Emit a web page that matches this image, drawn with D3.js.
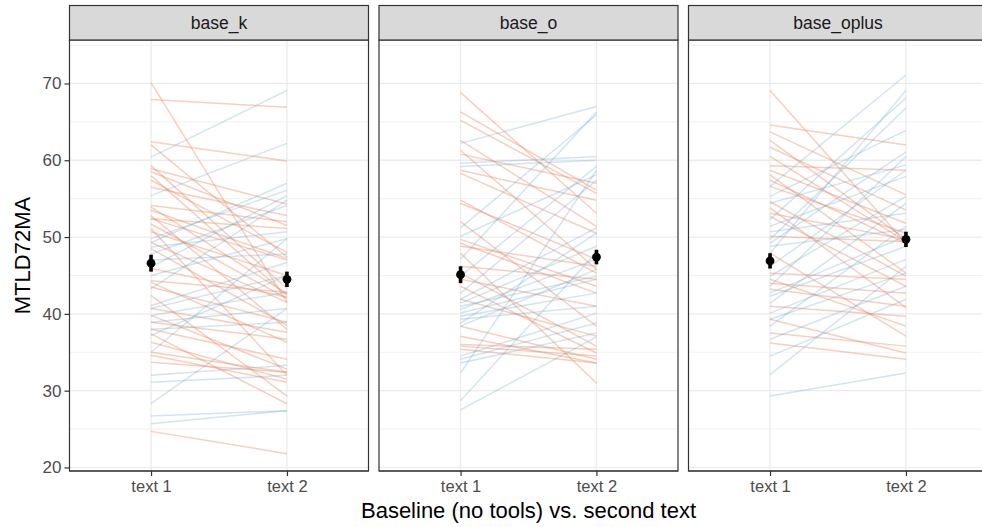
<!DOCTYPE html>
<html lang="en">
  <head>
    <meta charset="utf-8"/>
    <title>MTLD72MA slope chart</title>
    <style>
      body { margin: 0; overflow: hidden; background: #fff; }
      svg { font-family: "Liberation Sans", Arial, sans-serif; }
    </style>
  </head>
  <body>
    <svg id="chart"></svg>

    <script src="https://cdnjs.cloudflare.com/ajax/libs/d3/7.8.5/d3.min.js"></script>
    <script type="text/javascript">
      // panels and x categories
      const panels = ["base_k", "base_o", "base_oplus"];
      const conditions = ["text 1", "text 2"];
      const yTicks = [20, 30, 40, 50, 60, 70];

      // per-participant scores, one pair per line
      const baseK_text1 = [70.1, 67.9, 62.4, 62.0, 59.3, 58.9, 58.5, 58.0, 57.4, 56.5, 54.1, 53.9, 53.5, 52.8, 52.4, 51.7, 51.1, 50.7, 48.5, 45.9, 44.3, 44.1, 43.5, 42.4, 40.7, 39.8, 38.9, 38.0, 37.4, 36.3, 35.0, 34.6, 33.7, 24.7, 52.4, 49.3,
        60.4, 55.4, 49.8, 49.3, 48.7, 47.8, 47.0, 46.1, 45.0, 43.3, 41.1, 40.7, 39.8, 38.9, 38.0, 37.2, 35.0, 32.0, 31.1, 28.3, 26.7, 25.7];
      const baseK_text2 = [41.5, 66.9, 59.9, 47.4, 43.3, 54.3, 51.5, 42.4, 48.0, 52.8, 52.0, 42.6, 47.2, 38.0, 51.1, 42.0, 32.0, 45.0, 38.5, 42.2, 42.8, 36.3, 38.9, 29.3, 37.6, 32.8, 36.7, 34.1, 28.3, 31.5, 32.4, 31.1, 32.4, 21.8, 47.0, 41.5,
        69.1, 62.2, 56.1, 57.0, 50.7, 54.1, 47.8, 55.4, 49.8, 54.8, 46.7, 45.0, 42.8, 40.7, 38.9, 45.0, 49.8, 33.3, 32.0, 40.7, 27.4, 27.4];

      const baseO_text1 = [68.8, 66.3, 65.2, 62.6, 61.3, 58.7, 58.3, 54.8, 54.4, 52.0, 49.7, 48.8, 47.9, 46.2, 45.3, 44.5, 43.6, 41.9, 38.4, 37.1, 36.0, 35.8, 35.4, 60.8, 49.2,
        62.2, 59.6, 59.2, 51.2, 50.1, 47.1, 44.9, 42.7, 41.9, 41.4, 41.0, 40.6, 40.1, 39.7, 39.3, 38.8, 38.4, 34.5, 34.1, 33.6, 32.3, 28.7, 27.5];
      const baseO_text2 = [53.1, 56.1, 55.7, 51.4, 45.8, 54.8, 50.5, 45.3, 47.1, 38.4, 43.6, 46.2, 31.0, 44.5, 35.8, 41.0, 34.9, 37.1, 34.1, 33.6, 35.4, 34.5, 33.6, 57.0, 42.7,
        67.0, 60.5, 60.0, 65.9, 58.1, 66.3, 59.2, 57.4, 51.2, 48.8, 44.9, 47.1, 44.5, 42.7, 41.0, 50.5, 45.8, 40.1, 38.8, 37.5, 58.7, 48.0, 37.0];

      const baseOplus_text1 = [69.1, 64.6, 63.7, 62.6, 61.7, 60.5, 59.3, 58.7, 58.1, 57.4, 56.6, 54.6, 53.8, 53.1, 52.7, 50.1, 47.9, 45.3, 44.5, 44.0, 43.2, 41.0, 39.3, 37.5, 36.2,
        56.6, 55.3, 54.4, 52.3, 51.4, 50.7, 49.7, 49.2, 48.8, 47.9, 46.2, 44.9, 43.6, 42.7, 42.3, 41.4, 40.1, 39.3, 38.4, 36.7, 34.5, 32.1, 29.3];
      const baseOplus_text2 = [49.2, 62.0, 55.5, 49.7, 53.5, 49.4, 58.7, 51.8, 45.3, 49.2, 50.5, 44.9, 40.8, 49.7, 43.6, 49.4, 37.1, 44.5, 38.4, 42.7, 41.0, 39.7, 34.9, 35.8, 34.1,
        71.1, 63.9, 59.4, 68.1, 57.9, 53.1, 66.8, 61.1, 51.0, 69.1, 58.7, 55.3, 60.5, 50.1, 48.8, 54.4, 47.1, 45.3, 51.4, 43.6, 41.9, 46.2, 32.3];

      // group means with standard error, per panel
      const meanText1 = [46.6, 45.1, 46.9];
      const meanText2 = [44.5, 47.4, 49.7];
      const seText1 = [1.1, 1.1, 1.0];
      const seText2 = [1.0, 0.95, 1.0];

      const text1ByPanel = [baseK_text1, baseO_text1, baseOplus_text1];
      const text2ByPanel = [baseK_text2, baseO_text2, baseOplus_text2];

      const width = 982;
      const height = 527;
      const panelLeft = 69.5;
      const panelWidth = 299;
      const panelGap = 10.5;
      const stripTop = 5.5;
      const stripBottom = 40;
      const panelBottom = 471;

      const downColor = "#EF8A62";
      const upColor = "#67A9CF";

      const svg = d3.select("#chart")
        .attr("width", width)
        .attr("height", height);

      const y = d3.scaleLinear().domain([19.54, 75.66]).range([panelBottom, stripBottom]);

      panels.forEach(function(name, p) {
        const x0 = panelLeft + p * (panelWidth + panelGap);
        const x = d3.scalePoint().domain(conditions).range([x0, x0 + panelWidth]).padding(0.6);
        const g = svg.append("g").attr("class", "panel");

        // minor and major grid
        const minor = d3.range(25, 76, 10);
        g.selectAll(".minor").data(minor).enter().append("line")
          .attr("x1", x0).attr("x2", x0 + panelWidth)
          .attr("y1", function(d) { return y(d); })
          .attr("y2", function(d) { return y(d); })
          .attr("stroke", "#EBEBEB").attr("stroke-width", 0.7);
        g.selectAll(".major").data(yTicks).enter().append("line")
          .attr("x1", x0).attr("x2", x0 + panelWidth)
          .attr("y1", function(d) { return y(d); })
          .attr("y2", function(d) { return y(d); })
          .attr("stroke", "#EBEBEB").attr("stroke-width", 1.3);
        g.selectAll(".vmajor").data(conditions).enter().append("line")
          .attr("x1", function(d) { return x(d); })
          .attr("x2", function(d) { return x(d); })
          .attr("y1", stripBottom).attr("y2", panelBottom)
          .attr("stroke", "#EBEBEB").attr("stroke-width", 1.3);

        // participant lines
        const pairs = text1ByPanel[p].map(function(v, i) {
          return { a: v, b: text2ByPanel[p][i] };
        });
        g.selectAll(".pair").data(pairs).enter().append("line")
          .attr("x1", x("text 1")).attr("x2", x("text 2"))
          .attr("y1", function(d) { return y(d.a); })
          .attr("y2", function(d) { return y(d.b); })
          .attr("stroke", function(d) { return d.b < d.a ? downColor : upColor; })
          .attr("stroke-opacity", function(d) { return d.b < d.a ? 0.42 : 0.3; })
          .attr("stroke-width", 1.5);

        // means with error bars
        const means = [
          { c: "text 1", m: meanText1[p], se: seText1[p] },
          { c: "text 2", m: meanText2[p], se: seText2[p] }
        ];
        g.selectAll(".err").data(means).enter().append("line")
          .attr("x1", function(d) { return x(d.c); })
          .attr("x2", function(d) { return x(d.c); })
          .attr("y1", function(d) { return y(d.m - d.se); })
          .attr("y2", function(d) { return y(d.m + d.se); })
          .attr("stroke", "#000").attr("stroke-width", 3.6);
        g.selectAll(".mean").data(means).enter().append("circle")
          .attr("cx", function(d) { return x(d.c); })
          .attr("cy", function(d) { return y(d.m); })
          .attr("r", 4.4)
          .attr("fill", "#000");

        // panel border
        g.append("rect")
          .attr("x", x0).attr("y", stripBottom)
          .attr("width", panelWidth).attr("height", panelBottom - stripBottom)
          .attr("fill", "none").attr("stroke", "#333").attr("stroke-width", 1.2);

        // strip
        g.append("rect")
          .attr("x", x0).attr("y", stripTop)
          .attr("width", panelWidth).attr("height", stripBottom - stripTop)
          .attr("fill", "#D9D9D9").attr("stroke", "#333").attr("stroke-width", 1.2);
        g.append("text")
          .attr("x", x0 + panelWidth / 2).attr("y", (stripTop + stripBottom) / 2)
          .attr("dy", "0.35em")
          .attr("text-anchor", "middle")
          .style("font-size", "17.5px").style("fill", "#1A1A1A")
          .text(name);

        // x axis
        const xAxis = g.append("g")
          .attr("transform", "translate(0," + panelBottom + ")")
          .call(d3.axisBottom(x).tickSize(5).tickPadding(4));
        xAxis.select(".domain").attr("stroke", "#333").attr("stroke-width", 1.2)
          .attr("d", "M" + x0 + ",0H" + (x0 + panelWidth));
        xAxis.selectAll(".tick line").attr("stroke", "#333").attr("stroke-width", 1.2);
        xAxis.selectAll(".tick text").style("font-size", "16.5px").style("fill", "#4D4D4D")
          .style("font-family", "'Liberation Sans', Arial, sans-serif");

        if (p === 0) {
          const yAxis = g.append("g")
            .attr("transform", "translate(" + x0 + ",0)")
            .call(d3.axisLeft(y).tickValues(yTicks).tickSize(5).tickPadding(3));
          yAxis.select(".domain").remove();
          yAxis.selectAll(".tick line").attr("stroke", "#333").attr("stroke-width", 1.2);
          yAxis.selectAll(".tick text").style("font-size", "17px").style("fill", "#4D4D4D")
            .style("font-family", "'Liberation Sans', Arial, sans-serif");
        }
      });

      svg.append("text")
        .attr("x", panelLeft + (3 * panelWidth + 2 * panelGap) / 2)
        .attr("y", 518)
        .attr("text-anchor", "middle")
        .style("font-size", "22px")
        .text("Baseline (no tools) vs. second text");

      svg.append("text")
        .attr("transform", "translate(30," + (stripBottom + panelBottom) / 2 + ") rotate(-90)")
        .attr("text-anchor", "middle")
        .style("font-size", "22px")
        .text("MTLD72MA");
    </script>
  </body>
</html>
